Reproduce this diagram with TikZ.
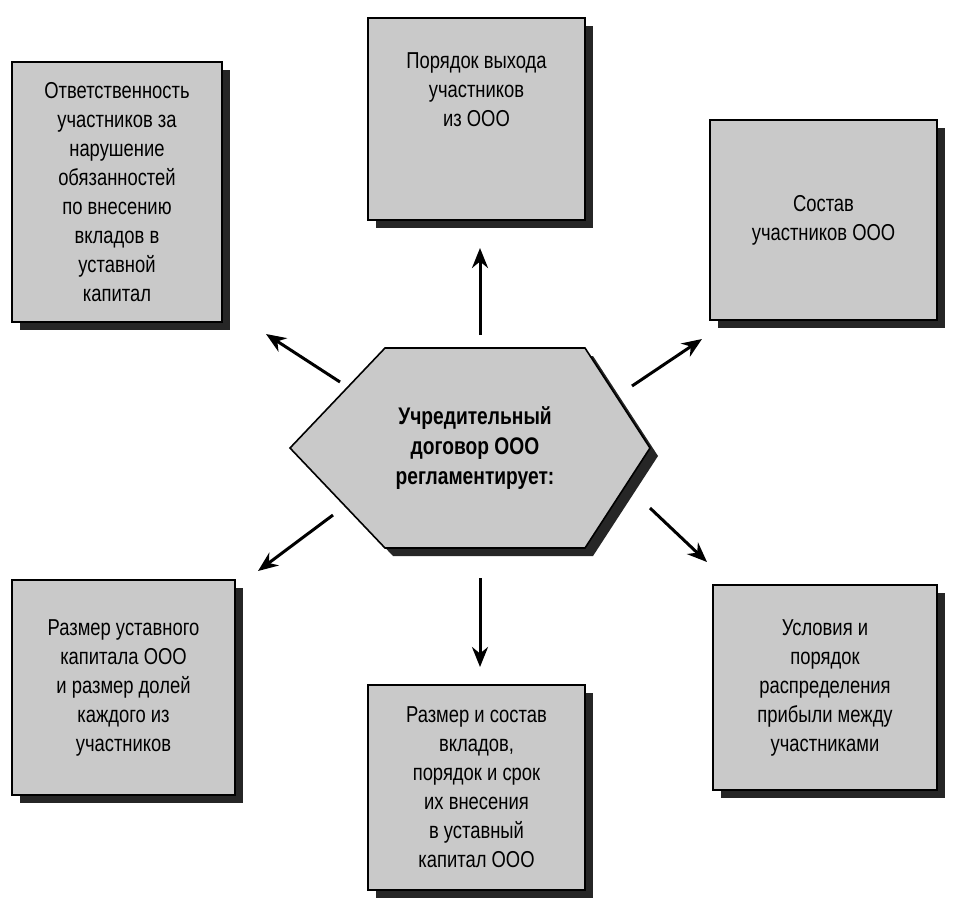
\documentclass[tikz,border=0pt]{standalone}
\usepackage{fontspec}
\setmainfont[FakeStretch=0.8]{Liberation Sans}
\usetikzlibrary{arrows.meta}
\definecolor{boxgray}{HTML}{C9C9C9}
\begin{document}
\begin{tikzpicture}[x=1pt,y=-1pt,
  box/.style={draw=black,line width=1.6pt,fill=boxgray,align=center,inner sep=0pt,
    font=\fontsize{23}{29}\selectfont},
  shadowbox/.style={fill=black!85},
  arr/.style={line width=3pt,-{Stealth[length=20pt,width=16pt]}}]
\useasboundingbox (0,0) rectangle (960,914);
\fill[white] (0,0) rectangle (960,914);
% shadows
\foreach \a/\b/\c/\d in {12/62/222/322, 368/18/585/220, 710/120/937/320, 12/580/235/795, 368/685/585/890, 713/585/937/790}
  \fill[black!85] (\a+8,\b+8) rectangle (\c+8,\d+8);
\fill[black!85] (298,456) -- (393,356) -- (593,356) -- (658,456) -- (593,556) -- (393,556) -- cycle;
% boxes
\node[box,minimum width=210pt,minimum height=260pt] (tl) at (117,192) {Ответственность\\участников за\\нарушение\\обязанностей\\по внесению\\вкладов в\\уставной\\капитал};
\node[box,minimum width=217pt,minimum height=202pt] (tc) at (476.5,119) {Порядок выхода\\участников\\из ООО\\[30pt]};
\node[box,minimum width=227pt,minimum height=200pt] (tr) at (823.5,220) {Состав\\участников ООО};
\node[box,minimum width=223pt,minimum height=215pt] (bl) at (123.5,687.5) {Размер уставного\\капитала ООО\\и размер долей\\каждого из\\участников};
\node[box,minimum width=217pt,minimum height=205pt] (bc) at (476.5,787.5) {Размер и состав\\вкладов,\\порядок и срок\\их внесения\\в уставный\\капитал ООО};
\node[box,minimum width=224pt,minimum height=205pt] (br) at (825,687.5) {Условия и\\порядок\\распределения\\прибыли между\\участниками};
% hexagon
\draw[line width=1.6pt,fill=boxgray] (290,448) -- (385,348) -- (585,348) -- (650,448) -- (585,548) -- (385,548) -- cycle;
\node[align=center,font=\bfseries\fontsize{24}{30}\selectfont] (c) at (475,448) {Учредительный\\договор ООО\\регламентирует:};
\coordinate (c1) at (480,335); \coordinate (e1) at (480,248);
\coordinate (c2) at (340,382); \coordinate (e2) at (266,334);
\coordinate (c3) at (632,386); \coordinate (e3) at (702,339);
\coordinate (c4) at (333,515); \coordinate (e4) at (258,571);
\coordinate (c5) at (480,578); \coordinate (e5) at (480,667);
\coordinate (c6) at (650,508); \coordinate (e6) at (707,562);
\foreach \i in {1,...,6} \draw[arr] (c\i) -- (e\i);
\end{tikzpicture}
\end{document}
